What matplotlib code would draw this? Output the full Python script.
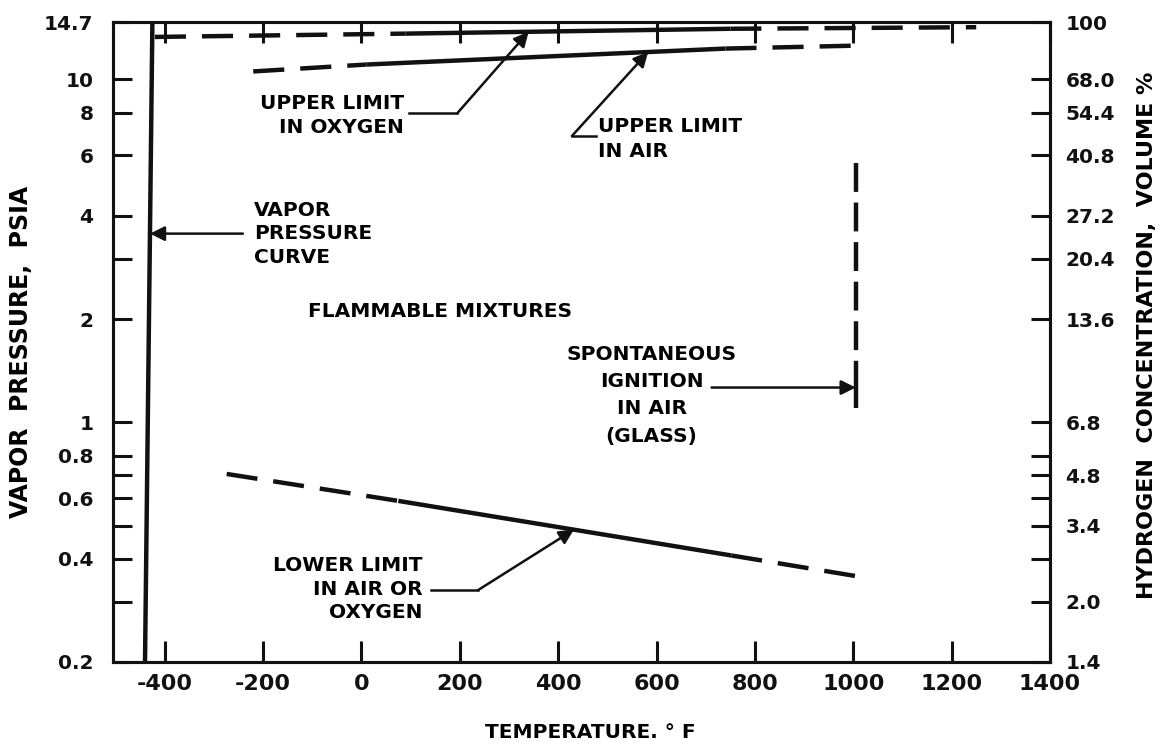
import numpy as np
import matplotlib
matplotlib.use("Agg")
import matplotlib.pyplot as plt

# ── Data ──────────────────────────────────────────────────────────────────────
# Each limit curve: [dashed start, solid start, solid end, dashed end]
VAPOR_TEMP = [-440, -425]
VAPOR_PSIA = [0.2, 14.7]

O2_UPPER_TEMP = [-420, 90, 750, 1250]
O2_UPPER_PSIA = [13.3, 13.6, 14.05, 14.2]

AIR_UPPER_TEMP = [-220, 10, 740, 1010]
AIR_UPPER_PSIA = [10.55, 11.05, 12.3, 12.55]

LOWER_TEMP = [-274, 75, 752, 1011]
LOWER_PSIA = [0.707, 0.59, 0.409, 0.355]

IGNITION_TEMP = 1005
IGNITION_PSIA = [5.7, 1.4, 1.1]   # dashed top, solid bottom

X_TICKS = [-400, -200, 0, 200, 400, 600, 800, 1000, 1200, 1400]
Y_TICKS = [0.2, 0.3, 0.4, 0.5, 0.6, 0.7, 0.8, 1, 2, 3, 4, 6, 8, 10, 14.7]
Y_LABELS = ["0.2", "", "0.4", "", "0.6", "", "0.8", "1", "2", "", "4", "6",
            "8", "10", "14.7"]
PCT_LABELS = ["1.4", "2.0", "", "3.4", "", "4.8", "", "6.8", "13.6", "20.4",
              "27.2", "40.8", "54.4", "68.0", "100"]

plt.rcParams["font.family"] = "DejaVu Sans"
plt.rcParams["font.weight"] = "bold"
plt.rcParams["axes.labelweight"] = "bold"

INK = "#111111"
LW = 3.2
DASH = (0, (7, 3.6))
TXT = 14.5


def on_curve(t, temp, psia):
    """Pressure on a limit curve at temperature t (linear in log p)."""
    return 10 ** np.interp(t, temp, np.log10(psia))


def draw_limit(ax, temp, psia):
    ax.plot(temp[:2], psia[:2], color=INK, lw=LW, ls=DASH)
    ax.plot(temp[1:3], psia[1:3], color=INK, lw=LW, solid_capstyle="butt")
    ax.plot(temp[2:], psia[2:], color=INK, lw=LW, ls=DASH)


def arrow(ax, tip, start):
    ax.annotate("", xy=tip, xytext=start,
                arrowprops=dict(arrowstyle="-|>", color=INK, lw=1.8,
                                mutation_scale=22, shrinkA=0, shrinkB=0))


def leader(ax, points, tip):
    xs = [p[0] for p in points]
    ys = [p[1] for p in points]
    ax.plot(xs, ys, color=INK, lw=1.8)
    arrow(ax, tip, points[-1])


fig = plt.figure(figsize=(11.69, 7.47), dpi=100)
ax = fig.add_axes([0.0967, 0.1138, 0.8015, 0.8567])

ax.set_yscale("log")
ax.set_xlim(-505, 1395)
ax.set_ylim(0.2, 14.7)

# ── Curves ────────────────────────────────────────────────────────────────────
ax.plot(VAPOR_TEMP, VAPOR_PSIA, color=INK, lw=LW)
draw_limit(ax, O2_UPPER_TEMP, O2_UPPER_PSIA)
draw_limit(ax, AIR_UPPER_TEMP, AIR_UPPER_PSIA)
draw_limit(ax, LOWER_TEMP, LOWER_PSIA)
ax.plot([IGNITION_TEMP] * 2, IGNITION_PSIA[:2], color=INK, lw=LW,
        ls=(0, (6.5, 2.4)))
ax.plot([IGNITION_TEMP] * 2, IGNITION_PSIA[1:], color=INK, lw=LW,
        solid_capstyle="butt")

# ── Labels with leaders ───────────────────────────────────────────────────────
ax.text(87, 7.86, "UPPER LIMIT\nIN OXYGEN", ha="right", va="center",
        multialignment="right", fontsize=TXT, linespacing=1.35)
leader(ax, [(97, 7.97), (195, 7.97)],
       (340, on_curve(340, O2_UPPER_TEMP, O2_UPPER_PSIA)))

ax.text(482, 6.7, "UPPER LIMIT\nIN AIR", ha="left", va="center",
        multialignment="left", fontsize=TXT, linespacing=1.35)
leader(ax, [(476, 6.84), (428, 6.84)],
       (583, on_curve(583, AIR_UPPER_TEMP, AIR_UPPER_PSIA)))

ax.text(-219, 3.55, "VAPOR\nPRESSURE\nCURVE", ha="left", va="center",
        multialignment="left", fontsize=TXT, linespacing=1.3)
vp_tip = np.interp(np.log10(3.55), np.log10(VAPOR_PSIA), VAPOR_TEMP)
arrow(ax, (vp_tip, 3.55), (-241, 3.55))

ax.text(-109, 2.1, "FLAMMABLE MIXTURES", ha="left", va="center",
        fontsize=TXT)

ax.text(590, 1.2, "SPONTANEOUS\nIGNITION\nIN AIR\n(GLASS)", ha="center",
        va="center", multialignment="center", fontsize=TXT, linespacing=1.55)
arrow(ax, (IGNITION_TEMP, 1.263), (712, 1.263))

ax.text(124, 0.326, "LOWER LIMIT\nIN AIR OR\nOXYGEN", ha="right", va="center",
        multialignment="right", fontsize=TXT, linespacing=1.3)
leader(ax, [(142, 0.324), (237, 0.324)],
       (432, on_curve(432, LOWER_TEMP, LOWER_PSIA)))

# ── Axes styling ──────────────────────────────────────────────────────────────
ax.set_xticks(X_TICKS)
ax.set_xticklabels([str(t) for t in X_TICKS])
ax.set_yticks(Y_TICKS)
ax.set_yticklabels(Y_LABELS)
ax.yaxis.set_minor_locator(matplotlib.ticker.NullLocator())
ax.tick_params(axis="x", direction="in", length=15, width=2.2, pad=9,
               labelsize=16, top=True, colors=INK)
ax.tick_params(axis="y", direction="in", length=14, width=2.2, pad=14,
               labelsize=14.5, colors=INK)
for s in ax.spines.values():
    s.set_linewidth(2.2)
    s.set_color(INK)

ax2 = ax.twinx()
ax2.set_yscale("log")
ax2.set_ylim(ax.get_ylim())
ax2.set_yticks(Y_TICKS)
ax2.set_yticklabels(PCT_LABELS)
ax2.yaxis.set_minor_locator(matplotlib.ticker.NullLocator())
ax2.tick_params(axis="y", direction="in", length=14, width=2.2, pad=11,
                labelsize=14.5, colors=INK)
for s in ax2.spines.values():
    s.set_linewidth(2.2)
    s.set_color(INK)

ax.set_ylabel("VAPOR  PRESSURE,  PSIA", fontsize=17)
ax.yaxis.set_label_coords(-0.085, 0.484)
ax2.set_ylabel("HYDROGEN  CONCENTRATION,  VOLUME %", fontsize=16)
ax2.yaxis.set_label_coords(1.093, 0.511)
ax.set_xlabel("TEMPERATURE. \u00b0 F", fontsize=14.5)
ax.xaxis.set_label_coords(0.509, -0.096)

fig.savefig("out.png", dpi=100, facecolor="white")
